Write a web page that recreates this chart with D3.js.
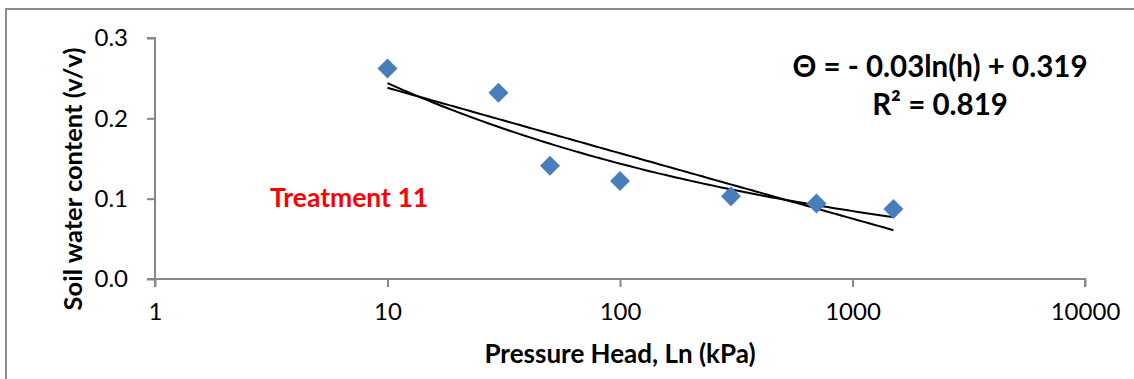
<!DOCTYPE html>
<html>
<head>
<meta charset="utf-8">
<script src="https://cdn.jsdelivr.net/npm/d3@7"></script>
<style>
  html, body { margin: 0; padding: 0; background: #fff; }
  svg { display: block; }
  text { font-family: Lato, "Open Sans", sans-serif; }
</style>
</head>
<body>
<svg id="chart" width="1134" height="379"></svg>
<script>
// ---- data ----
const pressureHead = [10, 30, 50, 100, 300, 700, 1500];            // kPa
const waterContent = [0.262, 0.232, 0.141, 0.122, 0.103, 0.094, 0.087]; // v/v
const xTicks = [1, 10, 100, 1000, 10000];
const xTickLabels = ["1", "10", "100", "1000", "10000"];
const yTicks = [0.0, 0.1, 0.2, 0.3];
const yTickLabels = ["0.0", "0.1", "0.2", "0.3"];
const equationLines = ["\u0398 = - 0.03ln(h) + 0.319", "R\u00B2 = 0.819"];
const treatmentLabel = "Treatment 11";
const xTitle = "Pressure Head, Ln (kPa)";
const yTitle = "Soil water content (v/v)";

// ---- layout ----
const svg = d3.select("#chart");
const plotL = 155, plotR = 1085, plotT = 38, plotB = 279;
const x = d3.scaleLog().domain([1, 10000]).range([plotL, plotR]);
const y = d3.scaleLinear().domain([0, 0.3]).range([plotB, plotT]);
const axisColor = "#878787";

// outer border (left & top visible)
svg.append("rect").attr("x", 6).attr("y", 9).attr("width", 1140).attr("height", 380)
  .attr("fill", "none").attr("stroke", "#8c8c8c").attr("stroke-width", 2);

// regressions derived from data
const pts = pressureHead.map((h, i) => ({h, t: waterContent[i]}));
function linreg(xs, ys) {
  const mx = d3.mean(xs), my = d3.mean(ys);
  let sxy = 0, sxx = 0;
  xs.forEach((v, i) => { sxy += (v - mx) * (ys[i] - my); sxx += (v - mx) ** 2; });
  const b = sxy / sxx; return {b, a: my - b * mx};
}
const lnH = pressureHead.map(Math.log);
const logFit = linreg(lnH, waterContent);                       // θ = a + b ln h
const powFit = linreg(lnH, waterContent.map(Math.log));         // ln θ = a + b ln h
const hMin = d3.min(pressureHead), hMax = d3.max(pressureHead);
const samples = d3.range(0, 101).map(i => Math.exp(Math.log(hMin) + (Math.log(hMax) - Math.log(hMin)) * i / 100));

const line = d3.line().x(d => x(d[0])).y(d => y(d[1]));

// axes
const yAxis = d3.axisLeft(y).tickValues(yTicks).tickFormat((d, i) => yTickLabels[i]).tickSize(8).tickPadding(19);
const gy = svg.append("g").attr("transform", `translate(${plotL},0)`).call(yAxis);
const xAxis = d3.axisBottom(x).tickValues(xTicks).tickFormat((d, i) => xTickLabels[i]).tickSize(8).tickPadding(16);
const gx = svg.append("g").attr("transform", `translate(0,${plotB})`).call(xAxis);
[gx, gy].forEach(g => {
  g.select(".domain").attr("stroke", axisColor).attr("stroke-width", 2);
  g.selectAll(".tick line").attr("stroke", axisColor).attr("stroke-width", 2);
  g.selectAll(".tick text").attr("fill", "#000").style("font-size", "24px").style("font-family", "Lato, sans-serif");
});
gx.select(".domain").attr("d", `M${plotL},8V0H${plotR}V8`);
gy.select(".domain").attr("d", `M-8,${plotT}H0V${plotB}H-8`);

// trendlines
svg.append("path").datum(samples.map(h => [h, logFit.a + logFit.b * Math.log(h)]))
  .attr("d", line).attr("fill", "none").attr("stroke", "#000").attr("stroke-width", 2);
svg.append("path").datum(samples.map(h => [h, Math.exp(powFit.a + powFit.b * Math.log(h))]))
  .attr("d", line).attr("fill", "none").attr("stroke", "#000").attr("stroke-width", 2);

// markers
svg.append("g").selectAll("path").data(pts).join("path")
  .attr("d", d3.symbol().type(d3.symbolSquare).size(200))
  .attr("transform", d => `translate(${x(d.h)},${y(d.t)}) rotate(45)`)
  .attr("fill", "#4a7ebb");

// labels
svg.append("text").attr("x", 270).attr("y", 207).attr("fill", "#ff0000")
  .style("font-size", "26.5px").style("font-weight", "bold").text(treatmentLabel);

svg.append("g").selectAll("text").data(equationLines).join("text")
  .attr("x", 940).attr("y", (d, i) => 77 + i * 38).attr("text-anchor", "middle")
  .style("font-size", "29.5px").style("font-weight", "bold").text(d => d);

svg.append("text").attr("x", 620).attr("y", 363).attr("text-anchor", "middle")
  .style("font-size", "26px").style("font-weight", "bold").text(xTitle);

svg.append("text").attr("transform", "translate(82,179) rotate(-90)").attr("text-anchor", "middle")
  .style("font-size", "25.5px").style("font-weight", "bold").text(yTitle);
</script>
</body>
</html>
